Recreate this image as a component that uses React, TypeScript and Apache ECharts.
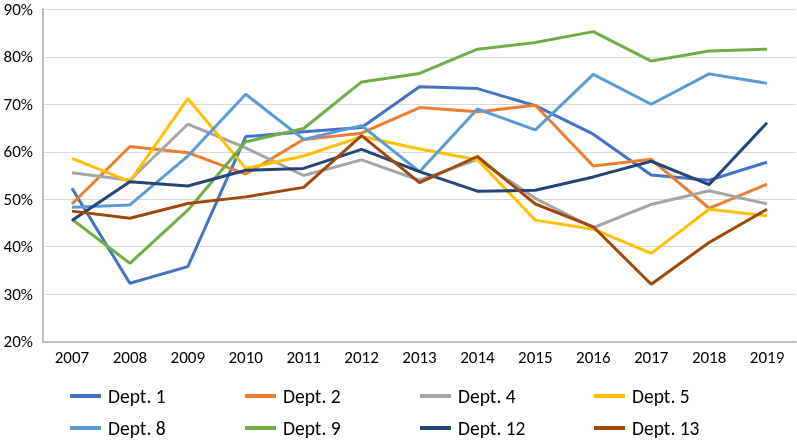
import React, { useEffect, useRef } from "react";
import * as echarts from "echarts";

const years = ["2007", "2008", "2009", "2010", "2011", "2012", "2013", "2014", "2015", "2016", "2017", "2018", "2019"];

const dept1 = [52.3, 32.3, 35.8, 63.2, 64.2, 65.1, 73.7, 73.3, 69.7, 63.7, 55.1, 54.0, 57.8];
const dept2 = [49.0, 61.1, 59.8, 55.3, 62.6, 63.9, 69.3, 68.4, 69.8, 57.0, 58.4, 48.1, 53.2];
const dept4 = [55.6, 54.0, 65.8, 60.8, 55.0, 58.3, 54.0, 58.4, 50.2, 44.0, 48.9, 51.8, 49.0];
const dept5 = [58.6, 53.7, 71.2, 56.5, 59.1, 63.2, 60.6, 58.3, 45.6, 43.7, 38.6, 47.9, 46.5];
const dept8 = [48.3, 48.8, 59.1, 72.1, 62.6, 65.5, 55.8, 69.0, 64.6, 76.3, 70.0, 76.4, 74.4];
const dept9 = [45.8, 36.5, 47.7, 62.1, 64.9, 74.7, 76.5, 81.6, 83.0, 85.3, 79.1, 81.2, 81.6];
const dept12 = [45.5, 53.7, 52.8, 56.1, 56.5, 60.5, 55.8, 51.7, 51.9, 54.7, 58.0, 53.1, 66.1];
const dept13 = [47.5, 46.0, 49.1, 50.5, 52.5, 63.4, 53.5, 59.0, 49.0, 44.2, 32.1, 40.9, 47.9];

const seriesNames = ["Dept. 1", "Dept. 2", "Dept. 4", "Dept. 5", "Dept. 8", "Dept. 9", "Dept. 12", "Dept. 13"];
const seriesData = [dept1, dept2, dept4, dept5, dept8, dept9, dept12, dept13];
const colors = ["#4472C4", "#ED7D31", "#A5A5A5", "#FFC000", "#5B9BD5", "#70AD47", "#264478", "#9E480E"];

const FONT = "Carlito, 'Liberation Sans Narrow', Lato, sans-serif";

const legendLefts = [70, 245, 420, 594];
const legendTops = [386, 418];

export default function App() {
  const ref = useRef<HTMLDivElement>(null);
  useEffect(() => {
    if (!ref.current) return;
    const chart = echarts.init(ref.current, undefined, { renderer: "svg" });
    const legends = seriesNames.map((name, i) => ({
      left: legendLefts[i % 4],
      top: legendTops[Math.floor(i / 4)],
      padding: 0,
      itemWidth: 31,
      itemHeight: 4,
      icon: "rect",
      data: [name],
      textStyle: { fontFamily: FONT, fontSize: 19.5, lineHeight: 20, color: "#000", padding: [0, 0, 0, 2] },
    }));
    chart.setOption({
      animation: false,
      color: colors,
      grid: { left: 43, right: 1, top: 9.3, bottom: 99.3, containLabel: false },
      legend: legends,
      xAxis: {
        type: "category",
        data: years,
        boundaryGap: true,
        axisLine: { lineStyle: { color: "#BFBFBF", width: 2 } },
        axisTick: { show: false },
        axisLabel: { fontFamily: FONT, fontSize: 17, color: "#000", margin: 7 },
      },
      yAxis: {
        type: "value",
        min: 20,
        max: 90,
        interval: 10,
        axisLine: { show: true, lineStyle: { color: "#BFBFBF", width: 2 } },
        axisTick: { show: false },
        splitLine: { lineStyle: { color: "#D9D9D9", width: 1 } },
        axisLabel: { fontFamily: FONT, fontSize: 17, color: "#000", margin: 10, formatter: "{value}%" },
      },
      series: seriesNames.map((name, i) => ({
        name,
        type: "line",
        data: seriesData[i],
        symbol: "none",
        lineStyle: { width: 3, color: colors[i] },
        itemStyle: { color: colors[i] },
      })),
    });
    return () => chart.dispose();
  }, []);
  return <div ref={ref} style={{ position: "fixed", left: 0, top: 0, width: 797, height: 441 }} />;
}
